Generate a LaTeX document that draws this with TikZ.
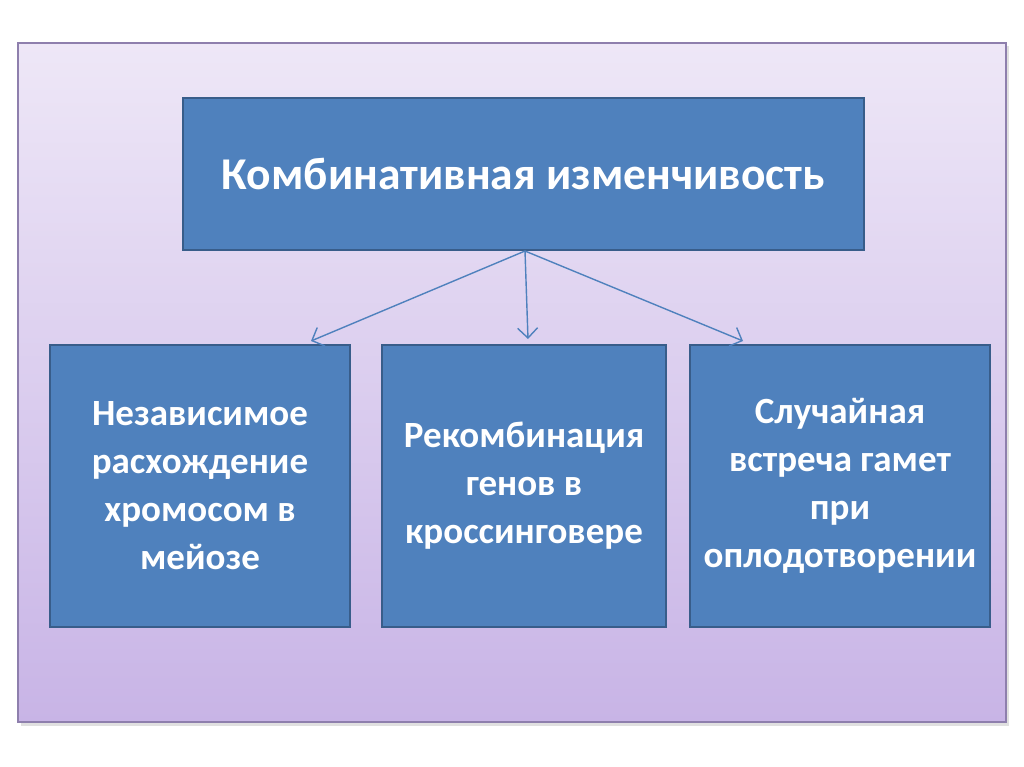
\documentclass[tikz,border=0pt]{standalone}
\usepackage{fontspec}
\setmainfont{Carlito}
\usetikzlibrary{arrows.meta}
\definecolor{boxfill}{HTML}{4F81BD}
\definecolor{boxline}{HTML}{385D8A}
\definecolor{bgtop}{HTML}{EEE7F7}
\definecolor{bgbot}{HTML}{C8B4E6}
\definecolor{bgline}{HTML}{8E7FAD}
\tikzset{
  box/.style={draw=boxline, line width=2.2pt, fill=boxfill, text=white, font=\bfseries\fontsize{37}{48}\selectfont, align=center, inner sep=0pt},
  conn/.style={draw=boxfill, line width=1.4pt, -{Straight Barb[length=10pt,width=20pt,line width=1.4pt]}}
}
\begin{document}
\begin{tikzpicture}[x=1pt,y=-1pt]
\useasboundingbox[fill=white] (0,0) rectangle (1024,767);
\fill[black!12] (21,46) rectangle (1009,726);
\shade[top color=bgtop, bottom color=bgbot, draw=bgline, line width=1.2pt] (18,43) rectangle (1006,722);
\node[box, minimum width=681, minimum height=152, font=\bfseries\fontsize{45.5}{54}\selectfont] (top) at (523.5,174) {Комбинативная изменчивость};
\node[box, minimum width=300, minimum height=282] (a) at (200,486) {Независимое\\расхождение\\хромосом в\\мейозе};
\node[box, minimum width=284, minimum height=282] (b) at (524,486) {Рекомбинация\\генов в\\кроссинговере};
\node[box, minimum width=300, minimum height=282] (c) at (840,486) {Случайная\\встреча гамет\\при\\оплодотворении};
\coordinate (s) at (525,251);
\coordinate (ea) at (311,341);
\coordinate (eb) at (528,339);
\coordinate (ec) at (743,341);
\draw[conn] (s) -- (ea);
\draw[conn] (s) -- (eb);
\draw[conn] (s) -- (ec);
\end{tikzpicture}
\end{document}
